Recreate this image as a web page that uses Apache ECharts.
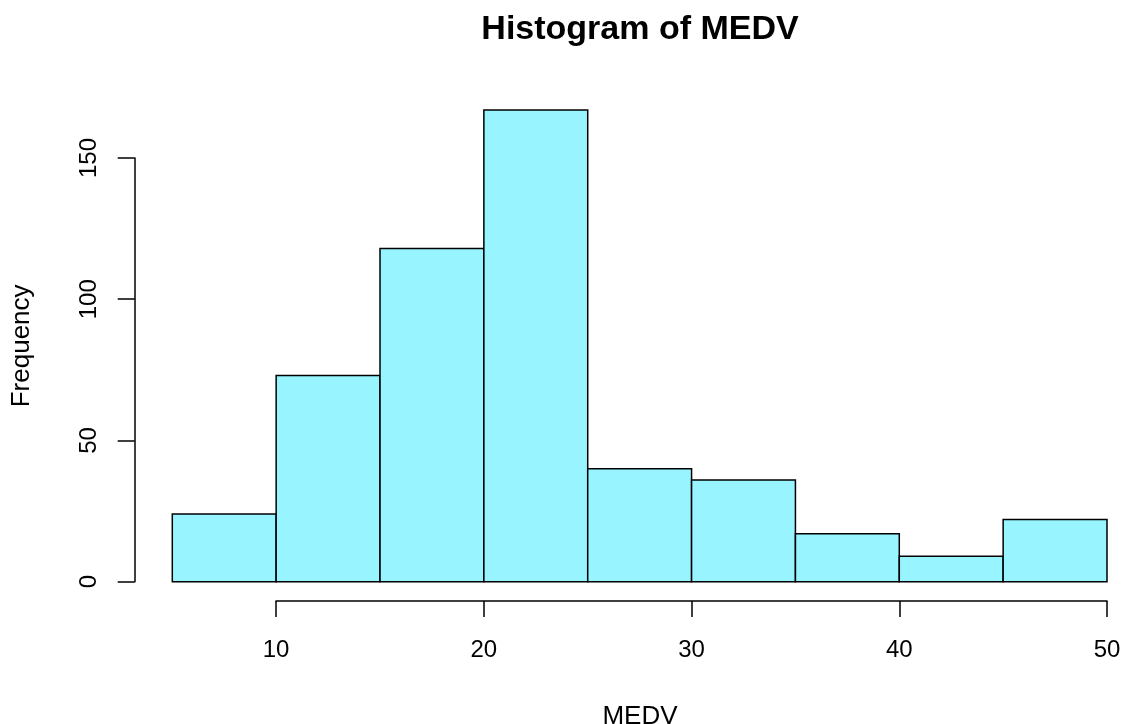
<!DOCTYPE html>
<html>
<head>
<meta charset="utf-8">
<script src="https://cdn.jsdelivr.net/npm/echarts@6/dist/echarts.min.js"></script>
<style>
  html, body { margin: 0; padding: 0; background: #fff; }
  #chart { width: 1130px; height: 724px; }
</style>
</head>
<body>
<div id="chart"></div>
<script>
// histogram of MEDV, breaks of 5
const breaks = [5, 10, 15, 20, 25, 30, 35, 40, 45, 50];
const counts = [24, 73, 118, 167, 40, 36, 17, 9, 22];
const yTicks = [0, 50, 100, 150];
const xTicks = [10, 20, 30, 40, 50];

const font = 'Liberation Sans, Arial, Helvetica, sans-serif';

// one row per bin: [start, end, count]
const bins = counts.map(function (c, i) {
    return [breaks[i], breaks[i + 1], c];
});

const chart = echarts.init(document.getElementById('chart'));

const option = {
    backgroundColor: '#fff',
    animation: false,
    textStyle: { fontFamily: font },
    title: [{
        text: 'Histogram of MEDV',
        left: 635,
        textAlign: 'center',
        top: 8,
        textStyle: { fontFamily: font, fontSize: 34, fontWeight: 'bold', color: '#000' }
    }, {
        text: 'MEDV',
        left: 635,
        textAlign: 'center',
        top: 699,
        textStyle: { fontFamily: font, fontSize: 26, fontWeight: 'normal', color: '#000' }
    }],
    grid: [
        // plot area for the bars
        { left: 172.3, right: 23, top: 158, bottom: 142.3 },
        // separate grid only to carry the x axis, which starts at 10 in the original
        { left: 276, right: 23, top: 560, bottom: 123 }
    ],
    xAxis: [{
        gridIndex: 0,
        type: 'value',
        min: breaks[0],
        max: breaks[breaks.length - 1],
        show: false
    }, {
        gridIndex: 1,
        type: 'value',
        min: xTicks[0],
        max: xTicks[xTicks.length - 1],
        interval: 10,
        position: 'bottom',
        axisLine: { show: true, lineStyle: { color: '#000', width: 1.5 } },
        axisTick: { show: true, inside: false, length: 16, lineStyle: { color: '#000', width: 1.5 } },
        axisLabel: { fontSize: 24, color: '#000', margin: 37, fontFamily: font },
        splitLine: { show: false }
    }],
    yAxis: [{
        gridIndex: 0,
        type: 'value',
        min: yTicks[0],
        max: yTicks[yTicks.length - 1],
        interval: 50,
        offset: 37.6,
        name: 'Frequency',
        nameLocation: 'middle',
        nameRotate: 90,
        nameGap: 100,
        nameTextStyle: { fontSize: 26, color: '#000', fontFamily: font, padding: [0, 0, 0, 48] },
        axisLine: { show: true, lineStyle: { color: '#000', width: 1.5 } },
        axisTick: { show: true, inside: false, length: 17, lineStyle: { color: '#000', width: 1.5 } },
        axisLabel: { fontSize: 24, color: '#000', margin: 33, rotate: 90, fontFamily: font },
        splitLine: { show: false }
    }, {
        gridIndex: 1,
        type: 'value',
        show: false
    }],
    series: [{
        type: 'custom',
        xAxisIndex: 0,
        yAxisIndex: 0,
        clip: false,
        data: bins,
        renderItem: function (params, api) {
            const p0 = api.coord([api.value(0), api.value(2)]);
            const p1 = api.coord([api.value(1), 0]);
            return {
                type: 'rect',
                shape: { x: p0[0], y: p0[1], width: p1[0] - p0[0], height: p1[1] - p0[1] },
                style: { fill: '#98F5FF', stroke: '#000', lineWidth: 1.5 }
            };
        }
    }]
};

chart.setOption(option);
</script>
</body>
</html>
